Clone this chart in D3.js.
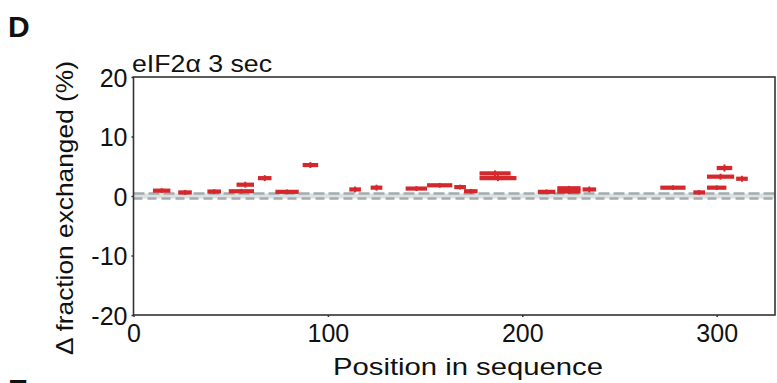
<!DOCTYPE html>
<html>
<head>
<meta charset="utf-8">
<script src="https://cdn.jsdelivr.net/npm/d3@7"></script>
<style>
  html, body { margin: 0; padding: 0; background: #fff; }
  svg { display: block; font-family: Arial, "Liberation Sans", Helvetica, sans-serif; }
</style>
</head>
<body>
<svg id="chart" width="777" height="383"></svg>
<script>
// Peptide coverage: first and last residue of each peptide
const starts = [10, 23, 38, 49, 53, 64, 73, 87, 111, 122, 140, 151, 165, 170, 178, 178, 208, 218, 218, 231, 271, 288, 295, 295, 300, 310];
const ends   = [19, 30, 45, 62, 62, 71, 85, 95, 117, 128, 151, 164, 171, 177, 194, 197, 217, 230, 230, 238, 284, 294, 305, 309, 308, 316];
// Difference in deuterium uptake (%) and its uncertainty
const deltas = [0.9, 0.6, 0.75, 0.8, 1.9, 3.0, 0.7, 5.2, 1.1, 1.4, 1.25, 1.8, 1.5, 0.8, 3.8, 3.0, 0.7, 1.3, 0.75, 1.1, 1.4, 0.6, 1.4, 3.25, 4.7, 2.9];
const errors = [0.4, 0.4, 0.4, 0.4, 0.5, 0.5, 0.4, 0.5, 0.5, 0.5, 0.4, 0.4, 0.4, 0.4, 0.5, 0.5, 0.4, 0.4, 0.4, 0.5, 0.4, 0.4, 0.4, 0.5, 0.6, 0.5];
// Significance threshold band around zero
const threshold = [-0.42, 0.42];
const xTicks = [0, 100, 200, 300];
const yTicks = [-20, -10, 0, 10, 20];

const svg = d3.select("#chart");
const m = { left: 133.5, right: 775, top: 77, bottom: 315 };

const x = d3.scaleLinear().domain([0, 330]).range([m.left, m.right]);
const y = d3.scaleLinear().domain([-20, 20]).range([m.bottom, m.top]);

const red = "#d5282c";
const ink = "#111";

// threshold band
svg.append("rect")
  .attr("x", m.left).attr("width", m.right - m.left)
  .attr("y", y(threshold[1])).attr("height", y(threshold[0]) - y(threshold[1]))
  .attr("fill", "#dde1e2");
svg.selectAll("line.thr").data(threshold).join("line")
  .attr("class", "thr")
  .attr("x1", m.left).attr("x2", m.right)
  .attr("y1", d => y(d)).attr("y2", d => y(d))
  .attr("stroke", "#a3acae").attr("stroke-width", 2.6)
  .attr("stroke-dasharray", (d, i) => i ? "11,4" : "9,5");

// peptides
const peps = starts.map((s, i) => ({ s, e: ends[i], v: deltas[i], err: errors[i] }));
const g = svg.append("g");
g.selectAll("line.bar").data(peps).join("line")
  .attr("class", "bar")
  .attr("x1", d => x(d.s)).attr("x2", d => x(d.e))
  .attr("y1", d => y(d.v)).attr("y2", d => y(d.v))
  .attr("stroke", red).attr("stroke-width", 4.2);
g.selectAll("line.err").data(peps).join("line")
  .attr("class", "err")
  .attr("x1", d => x((d.s + d.e) / 2)).attr("x2", d => x((d.s + d.e) / 2))
  .attr("y1", d => y(d.v - d.err)).attr("y2", d => y(d.v + d.err))
  .attr("stroke", red).attr("stroke-width", 2);

// axes
const fmt = d => String(d);
const xAxis = d3.axisBottom(x).tickValues(xTicks).tickFormat(fmt).tickSize(2).tickPadding(8);
const yAxis = d3.axisLeft(y).tickValues(yTicks).tickFormat(fmt).tickSize(2).tickPadding(4);
const gx = svg.append("g").attr("transform", `translate(0,${m.bottom})`).call(xAxis);
const gy = svg.append("g").attr("transform", `translate(${m.left},0)`).call(yAxis);
[gx, gy].forEach(a => {
  a.select(".domain").remove();
  a.selectAll("line").attr("stroke", "#333").attr("stroke-width", 1.5);
  a.selectAll("text").attr("font-size", 25).attr("fill", ink)
    .attr("font-family", "Arial, 'Liberation Sans', sans-serif");
});
gy.selectAll("text").attr("dy", "0.36em");
gx.selectAll("text").attr("dy", "0.68em");

// frame
svg.append("rect")
  .attr("x", m.left).attr("y", m.top)
  .attr("width", m.right - m.left).attr("height", m.bottom - m.top)
  .attr("fill", "none").attr("stroke", "#333").attr("stroke-width", 1.6);

// titles
svg.append("text").attr("x", 132).attr("y", 72)
  .attr("font-size", 24).attr("fill", ink)
  .attr("textLength", 140).attr("lengthAdjust", "spacingAndGlyphs")
  .text("eIF2α 3 sec");
svg.append("text").attr("x", 468).attr("y", 375)
  .attr("text-anchor", "middle").attr("font-size", 24.5).attr("fill", ink)
  .attr("textLength", 270).attr("lengthAdjust", "spacingAndGlyphs")
  .text("Position in sequence");
svg.append("text")
  .attr("transform", "translate(73,208) rotate(-90)")
  .attr("text-anchor", "middle").attr("font-size", 24).attr("fill", ink)
  .attr("textLength", 294).attr("lengthAdjust", "spacingAndGlyphs")
  .text("Δ fraction exchanged (%)");

// panel letters
svg.append("text").attr("x", 8).attr("y", 37)
  .attr("font-size", 30).attr("font-weight", "bold").attr("fill", ink).text("D");
svg.append("text").attr("x", 8).attr("y", 400)
  .attr("font-size", 30).attr("font-weight", "bold").attr("fill", ink).text("E");
</script>
</body>
</html>
